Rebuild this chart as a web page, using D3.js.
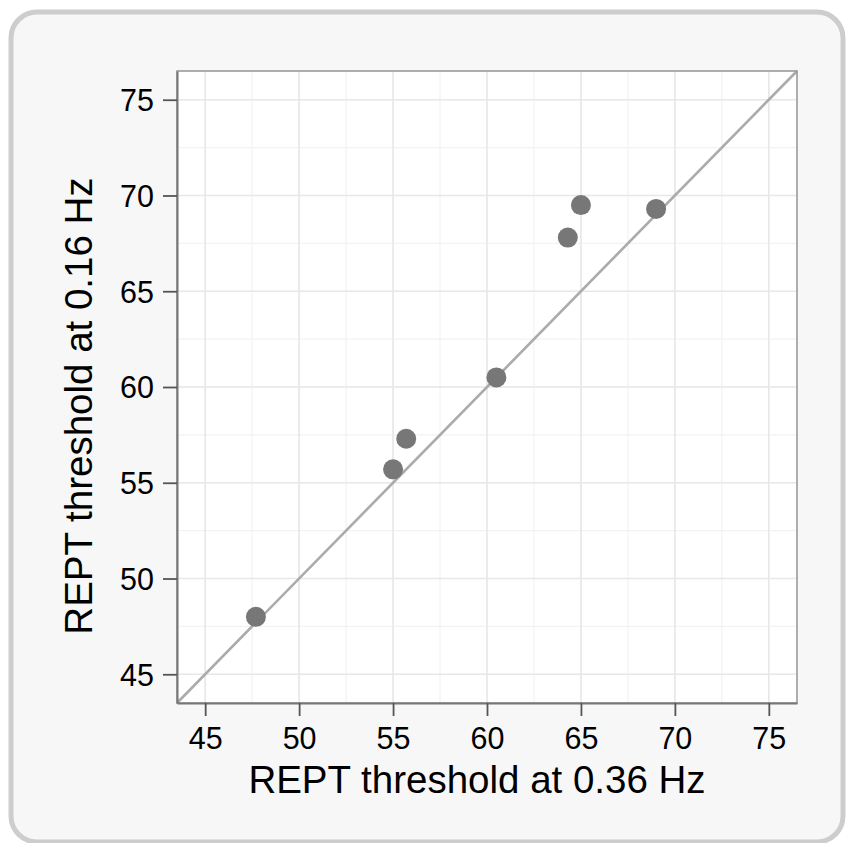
<!DOCTYPE html>
<html>
<head>
<meta charset="utf-8">
<script src="https://cdn.jsdelivr.net/npm/d3@7"></script>
<style>
  html, body { margin: 0; padding: 0; background: #ffffff; }
  svg { display: block; }
  text { font-family: "Liberation Sans", Arial, Helvetica, sans-serif; fill: #000; }
</style>
</head>
<body>
<svg id="chart" width="846" height="843"></svg>
<script>
// ---- Data ----
const xValues = [47.7, 55.0, 55.7, 60.5, 64.3, 65.0, 69.0];   // REPT threshold at 0.36 Hz
const yValues = [48.0, 55.7, 57.3, 60.5, 67.8, 69.5, 69.3];   // REPT threshold at 0.16 Hz
const axisDomain = [43.5, 76.5];
const majorTicks = [45, 50, 55, 60, 65, 70, 75];
const minorTicks = [45, 47.5, 50, 52.5, 55, 57.5, 60, 62.5, 65, 67.5, 70, 72.5, 75];
const xTitle = "REPT threshold at 0.36 Hz";
const yTitle = "REPT threshold at 0.16 Hz";

const points = xValues.map((x, i) => ({ x, y: yValues[i] }));

// ---- Layout ----
const svg = d3.select("#chart");
const plot = { left: 177, top: 71, right: 797, bottom: 703 };

// panel
svg.append("rect")
  .attr("x", 11).attr("y", 12)
  .attr("width", 832).attr("height", 830)
  .attr("rx", 26).attr("ry", 26)
  .attr("fill", "#f7f7f7")
  .attr("stroke", "#cdcdcd")
  .attr("stroke-width", 5);

const x = d3.scaleLinear().domain(axisDomain).range([plot.left, plot.right]);
const y = d3.scaleLinear().domain(axisDomain).range([plot.bottom, plot.top]);

// plot background
svg.append("rect")
  .attr("x", plot.left).attr("y", plot.top)
  .attr("width", plot.right - plot.left).attr("height", plot.bottom - plot.top)
  .attr("fill", "#ffffff");

// minor grid
const grid = svg.append("g");
grid.selectAll(".vminor").data(minorTicks).enter().append("line")
  .attr("x1", d => x(d)).attr("x2", d => x(d))
  .attr("y1", plot.top).attr("y2", plot.bottom)
  .attr("stroke", "#f2f2f2").attr("stroke-width", 1.2);
grid.selectAll(".hminor").data(minorTicks).enter().append("line")
  .attr("y1", d => y(d)).attr("y2", d => y(d))
  .attr("x1", plot.left).attr("x2", plot.right)
  .attr("stroke", "#f2f2f2").attr("stroke-width", 1.2);
// major grid
grid.selectAll(".vmajor").data(majorTicks).enter().append("line")
  .attr("x1", d => x(d)).attr("x2", d => x(d))
  .attr("y1", plot.top).attr("y2", plot.bottom)
  .attr("stroke", "#e8e8e8").attr("stroke-width", 1.6);
grid.selectAll(".hmajor").data(majorTicks).enter().append("line")
  .attr("y1", d => y(d)).attr("y2", d => y(d))
  .attr("x1", plot.left).attr("x2", plot.right)
  .attr("stroke", "#e8e8e8").attr("stroke-width", 1.6);

// identity line
svg.append("line")
  .attr("x1", x(axisDomain[0])).attr("y1", y(axisDomain[0]))
  .attr("x2", x(axisDomain[1])).attr("y2", y(axisDomain[1]))
  .attr("stroke", "#ababab").attr("stroke-width", 2.6);

// points
svg.append("g").selectAll("circle").data(points).enter().append("circle")
  .attr("cx", d => x(d.x)).attr("cy", d => y(d.y))
  .attr("r", 10)
  .attr("fill", "#777777");

// frame
svg.append("rect")
  .attr("x", plot.left).attr("y", plot.top)
  .attr("width", plot.right - plot.left).attr("height", plot.bottom - plot.top)
  .attr("fill", "none").attr("stroke", "#9a9a9a").attr("stroke-width", 1.6);

// axes
const xAxis = svg.append("g")
  .attr("transform", `translate(0,${plot.bottom})`)
  .call(d3.axisBottom(x).tickValues(majorTicks).tickSizeInner(13).tickSizeOuter(0).tickPadding(8).tickFormat(d3.format("d")));
const yAxis = svg.append("g")
  .attr("transform", `translate(${plot.left},0)`)
  .call(d3.axisLeft(y).tickValues(majorTicks).tickSizeInner(14).tickSizeOuter(0).tickPadding(9).tickFormat(d3.format("d")));

[xAxis, yAxis].forEach(a => {
  a.select(".domain").attr("stroke", "#777").attr("stroke-width", 2);
  a.selectAll(".tick line").attr("stroke", "#555").attr("stroke-width", 1.8);
  a.selectAll(".tick text")
    .attr("font-family", "'Liberation Sans', Arial, sans-serif")
    .attr("font-size", 30.5)
    .attr("fill", "#000");
});
xAxis.selectAll(".tick text").attr("y", 46).attr("dy", 0);
yAxis.selectAll(".tick text").attr("dy", "0.36em");

// titles
svg.append("text")
  .attr("x", 477).attr("y", 793)
  .attr("text-anchor", "middle")
  .attr("font-size", 38.5)
  .text(xTitle);

svg.append("text")
  .attr("transform", `translate(92,406) rotate(-90)`)
  .attr("text-anchor", "middle")
  .attr("font-size", 38.5)
  .text(yTitle);
</script>
</body>
</html>
